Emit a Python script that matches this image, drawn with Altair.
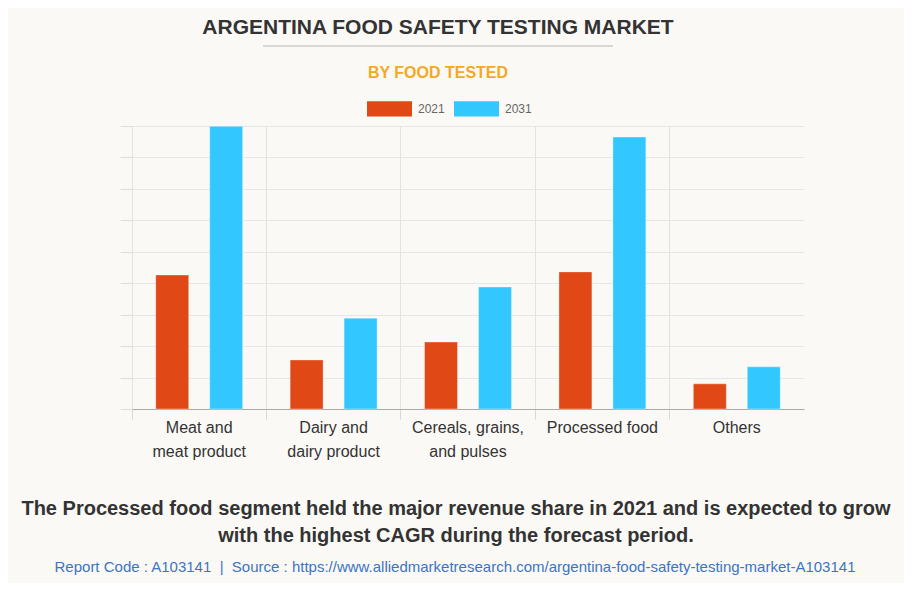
import json
import altair as alt
import pandas as pd

# ---- data ----
categories = ["Meat and meat product", "Dairy and dairy product",
              "Cereals, grains, and pulses", "Processed food", "Others"]
label_lines = [["Meat and", "meat product"], ["Dairy and", "dairy product"],
               ["Cereals, grains,", "and pulses"], ["Processed food"], ["Others"]]
years = ["2021", "2031"]
values_2021 = [42.6, 15.6, 21.3, 43.6, 8.0]
values_2031 = [89.9, 28.9, 38.8, 86.5, 13.4]
y_ticks = [0, 10, 20, 30, 40, 50, 60, 70, 80, 90]

title_text = "ARGENTINA FOOD SAFETY TESTING MARKET"
subtitle_text = "BY FOOD TESTED"
footer_lines = ["The Processed food segment held the major revenue share in 2021 and is expected to grow",
                "with the highest CAGR during the forecast period."]
source_text = ("Report Code : A103141\u00a0\u00a0|\u00a0\u00a0Source : "
               "https://www.alliedmarketresearch.com/argentina-food-safety-testing-market-A103141")

colors = ["#E04816", "#33C7FF"]

rows = []
for c, a, b in zip(categories, values_2021, values_2031):
    rows.append({"category": c, "year": years[0], "value": a})
    rows.append({"category": c, "year": years[1], "value": b})
df = pd.DataFrame(rows)

label_map = json.dumps(dict(zip(categories, label_lines)))

W, H = 672, 283
FONT = "Liberation Sans"

bars = alt.Chart(df).mark_bar(strokeWidth=1, strokeOpacity=0.35, stroke="#ffffff").encode(
    x=alt.X("category:N", sort=categories,
            scale=alt.Scale(paddingInner=0, paddingOuter=0),
            axis=alt.Axis(title=None, labelAngle=0, labelFontSize=16, labelColor="#333333",
                          labelFont=FONT, labelLineHeight=24, labelPadding=0,
                          labelExpr=f"{label_map}[datum.label]",
                          grid=True, gridColor="#e2e2e2", bandPosition=0,
                          tickSize=10, tickColor="#d8d8d8", domainColor="#aaaaaa",
                          labelBaseline="top")),
    xOffset=alt.XOffset("year:N", sort=years,
                        scale=alt.Scale(paddingInner=0.389, paddingOuter=0.44)),
    y=alt.Y("value:Q", scale=alt.Scale(domain=[0, 90], nice=False),
            axis=alt.Axis(title=None, labels=False, domain=False, values=y_ticks,
                          gridColor="#e6e6e6", tickColor="#dcdcdc", tickSize=12)),
    color=alt.Color("year:N", sort=years,
                    scale=alt.Scale(domain=years, range=colors),
                    legend=alt.Legend(title=None, orient="none", direction="horizontal",
                                      legendX=235, legendY=-40,
                                      symbolType="M-1,-0.34H1V0.34H-1Z", symbolSize=2025,
                                      symbolStrokeWidth=0, labelFontSize=12,
                                      labelColor="#666666", labelFont=FONT,
                                      labelOffset=6, columnPadding=9, padding=0)),
)

def text_layer(txt, x, y, size, color, weight="normal"):
    return alt.Chart(pd.DataFrame({"t": [txt]})).mark_text(
        fontSize=size, font=FONT, fontWeight=weight, color=color,
        align="center", baseline="middle"
    ).encode(text="t:N", x=alt.value(x), y=alt.value(y))

title = text_layer(title_text, 306, -98, 21, "#333333", "bold")
underline = alt.Chart(pd.DataFrame({"t": [0]})).mark_rule(color="#cccccc", strokeWidth=1.5).encode(
    x=alt.value(131), x2=alt.value(481), y=alt.value(-80))
subtitle = text_layer(subtitle_text, 306, -53, 16, "#F5A91E", "bold")
foot1 = text_layer(footer_lines[0], 324, 383, 20, "#333333", "bold")
foot2 = text_layer(footer_lines[1], 324, 410, 20, "#333333", "bold")
source = text_layer(source_text, 323, 441, 15, "#3B75C4")

chart = alt.layer(bars, title, underline, subtitle, foot1, foot2, source).properties(
    width=W, height=H,
    autosize=alt.AutoSizeParams(type="none"),
    padding={"left": 124, "top": 118, "right": 100, "bottom": 174},
    background="#FAF9F5",
).configure_view(stroke=None)

chart.save("out.html", embed_options={"renderer": "svg", "actions": False})
